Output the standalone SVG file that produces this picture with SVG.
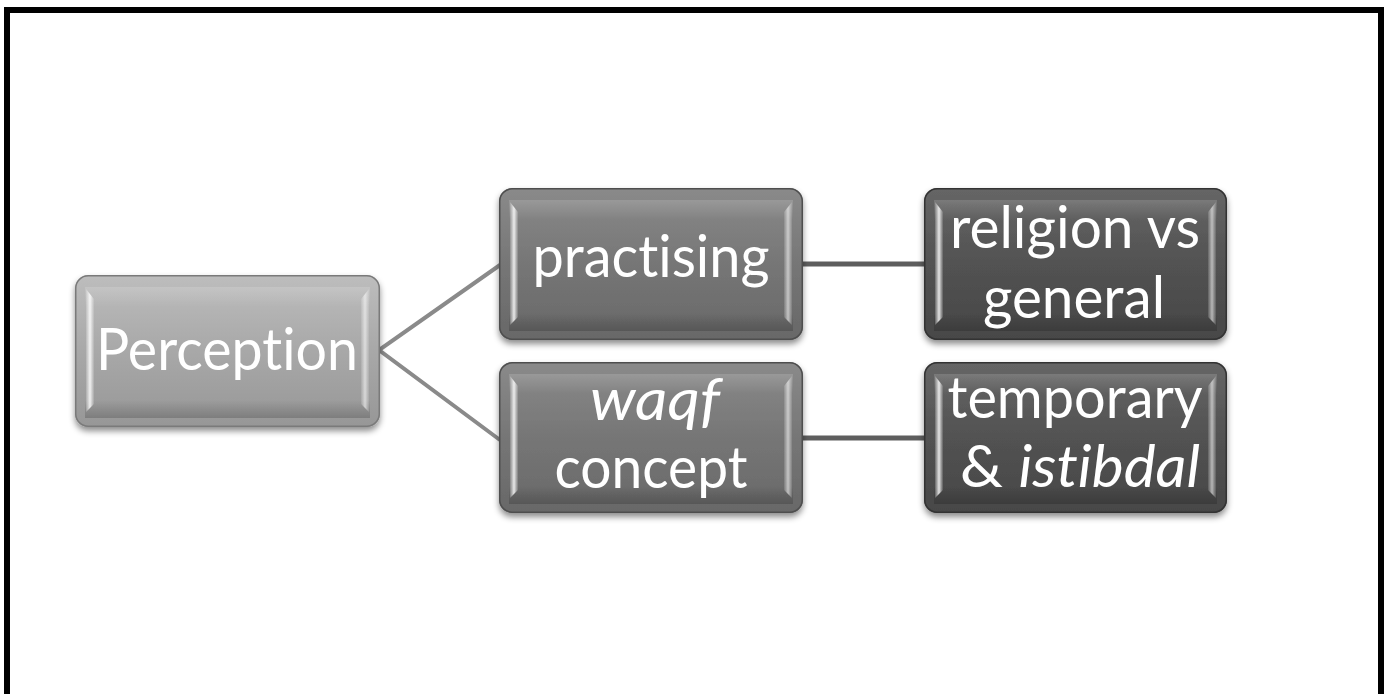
<svg xmlns="http://www.w3.org/2000/svg" width="1388" height="694" viewBox="0 0 1388 694">
  <defs>
    <style>
      .lbl { font-family: Lato, "Open Sans", "Liberation Sans", sans-serif; font-size: 59px; fill: #ffffff; text-anchor: middle; font-variant-ligatures: none; font-feature-settings: "liga" 0; }
      .it { font-style: italic; }
      .edge1 { stroke: #8a8a8a; stroke-width: 4; fill: none; }
      .edge2 { stroke: #5e5e5e; stroke-width: 5; fill: none; }
      .rim { fill: none; stroke-width: 1.5; }
    </style>
    <filter id="shadow" x="-10%" y="-10%" width="120%" height="130%">
      <feDropShadow dx="0" dy="4" stdDeviation="3" flood-color="#000" flood-opacity="0.45"/>
    </filter>
    <!-- face gradients per level -->
    <linearGradient id="g1" x1="0" y1="0" x2="0" y2="1">
      <stop offset="0" stop-color="#bdbdbd"/>
      <stop offset="0.5" stop-color="#a8a8a8"/>
      <stop offset="1" stop-color="#979797"/>
    </linearGradient>
    <linearGradient id="g2" x1="0" y1="0" x2="0" y2="1">
      <stop offset="0" stop-color="#8a8a8a"/>
      <stop offset="0.5" stop-color="#767676"/>
      <stop offset="1" stop-color="#686868"/>
    </linearGradient>
    <linearGradient id="g3" x1="0" y1="0" x2="0" y2="1">
      <stop offset="0" stop-color="#666666"/>
      <stop offset="0.5" stop-color="#525252"/>
      <stop offset="1" stop-color="#474747"/>
    </linearGradient>
    <!-- bevel highlights on the side edges -->
    <linearGradient id="sideL" x1="0" y1="0" x2="1" y2="0">
      <stop offset="0" stop-color="#fff" stop-opacity="0.15"/>
      <stop offset="0.5" stop-color="#fff" stop-opacity="0.85"/>
      <stop offset="1" stop-color="#fff" stop-opacity="0.1"/>
    </linearGradient>
    <linearGradient id="sideR" x1="0" y1="0" x2="1" y2="0">
      <stop offset="0" stop-color="#fff" stop-opacity="0.1"/>
      <stop offset="0.5" stop-color="#fff" stop-opacity="0.6"/>
      <stop offset="1" stop-color="#fff" stop-opacity="0.1"/>
    </linearGradient>
    <linearGradient id="topBand" x1="0" y1="0" x2="0" y2="1">
      <stop offset="0" stop-color="#fff" stop-opacity="0.15"/>
      <stop offset="1" stop-color="#fff" stop-opacity="0"/>
    </linearGradient>
    <linearGradient id="botBand" x1="0" y1="0" x2="0" y2="1">
      <stop offset="0" stop-color="#000" stop-opacity="0"/>
      <stop offset="1" stop-color="#000" stop-opacity="0.18"/>
    </linearGradient>
  </defs>

  <rect width="1388" height="694" fill="#ffffff"/>
  <!-- outer frame, open at the bottom -->
  <path d="M7 700 V10 H1381 V700" fill="none" stroke="#000" stroke-width="6"/>

  <g id="connectors">
    <polyline class="edge1" points="500,265 379,350 500,440"/>
    <line class="edge2" x1="802" y1="264" x2="925" y2="264"/>
    <line class="edge2" x1="802" y1="438" x2="925" y2="438"/>
  </g>

  <g id="node-perception">
    <rect x="75" y="275" width="305" height="152" rx="13" fill="url(#g1)" filter="url(#shadow)"/>
    <rect x="85" y="287" width="285" height="20" fill="url(#topBand)"/>
    <rect x="85" y="400" width="285" height="18" fill="url(#botBand)"/>
    <path d="M86 289 L94 299 V404 L86 412 Z" fill="url(#sideL)"/>
    <path d="M369 289 L361 299 V404 L369 412 Z" fill="url(#sideR)"/>
    <rect x="75.75" y="275.75" width="303.5" height="150.5" rx="12.5" class="rim" stroke="#7a7a7a"/>
    <text class="lbl" x="227" y="370" textLength="262" lengthAdjust="spacingAndGlyphs">Perception</text>
  </g>

  <g id="node-practising">
    <rect x="499" y="188" width="304" height="152" rx="13" fill="url(#g2)" filter="url(#shadow)"/>
    <rect x="509" y="200" width="284" height="20" fill="url(#topBand)"/>
    <rect x="509" y="313" width="284" height="18" fill="url(#botBand)"/>
    <path d="M510 202 L518 212 V317 L510 325 Z" fill="url(#sideL)"/>
    <path d="M792 202 L784 212 V317 L792 325 Z" fill="url(#sideR)"/>
    <rect x="499.75" y="188.75" width="302.5" height="150.5" rx="12.5" class="rim" stroke="#4e4e4e"/>
    <text class="lbl" x="651" y="277" textLength="237" lengthAdjust="spacingAndGlyphs">practising</text>
  </g>

  <g id="node-waqf">
    <rect x="499" y="362" width="304" height="151" rx="13" fill="url(#g2)" filter="url(#shadow)"/>
    <rect x="509" y="374" width="284" height="20" fill="url(#topBand)"/>
    <rect x="509" y="486" width="284" height="18" fill="url(#botBand)"/>
    <path d="M510 376 L518 386 V490 L510 498 Z" fill="url(#sideL)"/>
    <path d="M792 376 L784 386 V490 L792 498 Z" fill="url(#sideR)"/>
    <rect x="499.75" y="362.75" width="302.5" height="149.5" rx="12.5" class="rim" stroke="#4e4e4e"/>
    <text class="lbl it" x="655" y="420" textLength="130" lengthAdjust="spacingAndGlyphs">waqf</text>
    <text class="lbl" x="651" y="488" textLength="193" lengthAdjust="spacingAndGlyphs">concept</text>
  </g>

  <g id="node-religion">
    <rect x="924" y="188" width="303" height="152" rx="13" fill="url(#g3)" filter="url(#shadow)"/>
    <rect x="934" y="200" width="283" height="20" fill="url(#topBand)"/>
    <rect x="934" y="313" width="283" height="18" fill="url(#botBand)"/>
    <path d="M935 202 L943 212 V317 L935 325 Z" fill="url(#sideL)"/>
    <path d="M1216 202 L1208 212 V317 L1216 325 Z" fill="url(#sideR)"/>
    <rect x="924.75" y="188.75" width="301.5" height="150.5" rx="12.5" class="rim" stroke="#333333"/>
    <text class="lbl" x="1075" y="248" textLength="250" lengthAdjust="spacingAndGlyphs">religion vs</text>
    <text class="lbl" x="1074" y="318" textLength="182" lengthAdjust="spacingAndGlyphs">general</text>
  </g>

  <g id="node-temporary">
    <rect x="924" y="362" width="303" height="151" rx="13" fill="url(#g3)" filter="url(#shadow)"/>
    <rect x="934" y="374" width="283" height="20" fill="url(#topBand)"/>
    <rect x="934" y="486" width="283" height="18" fill="url(#botBand)"/>
    <path d="M935 376 L943 386 V490 L935 498 Z" fill="url(#sideL)"/>
    <path d="M1216 376 L1208 386 V490 L1216 498 Z" fill="url(#sideR)"/>
    <rect x="924.75" y="362.75" width="301.5" height="149.5" rx="12.5" class="rim" stroke="#333333"/>
    <text class="lbl" x="1075" y="418" textLength="255" lengthAdjust="spacingAndGlyphs">temporary</text>
    <text class="lbl" x="1080" y="487" textLength="240" lengthAdjust="spacingAndGlyphs">&amp; <tspan class="it">istibdal</tspan></text>
  </g>
</svg>
